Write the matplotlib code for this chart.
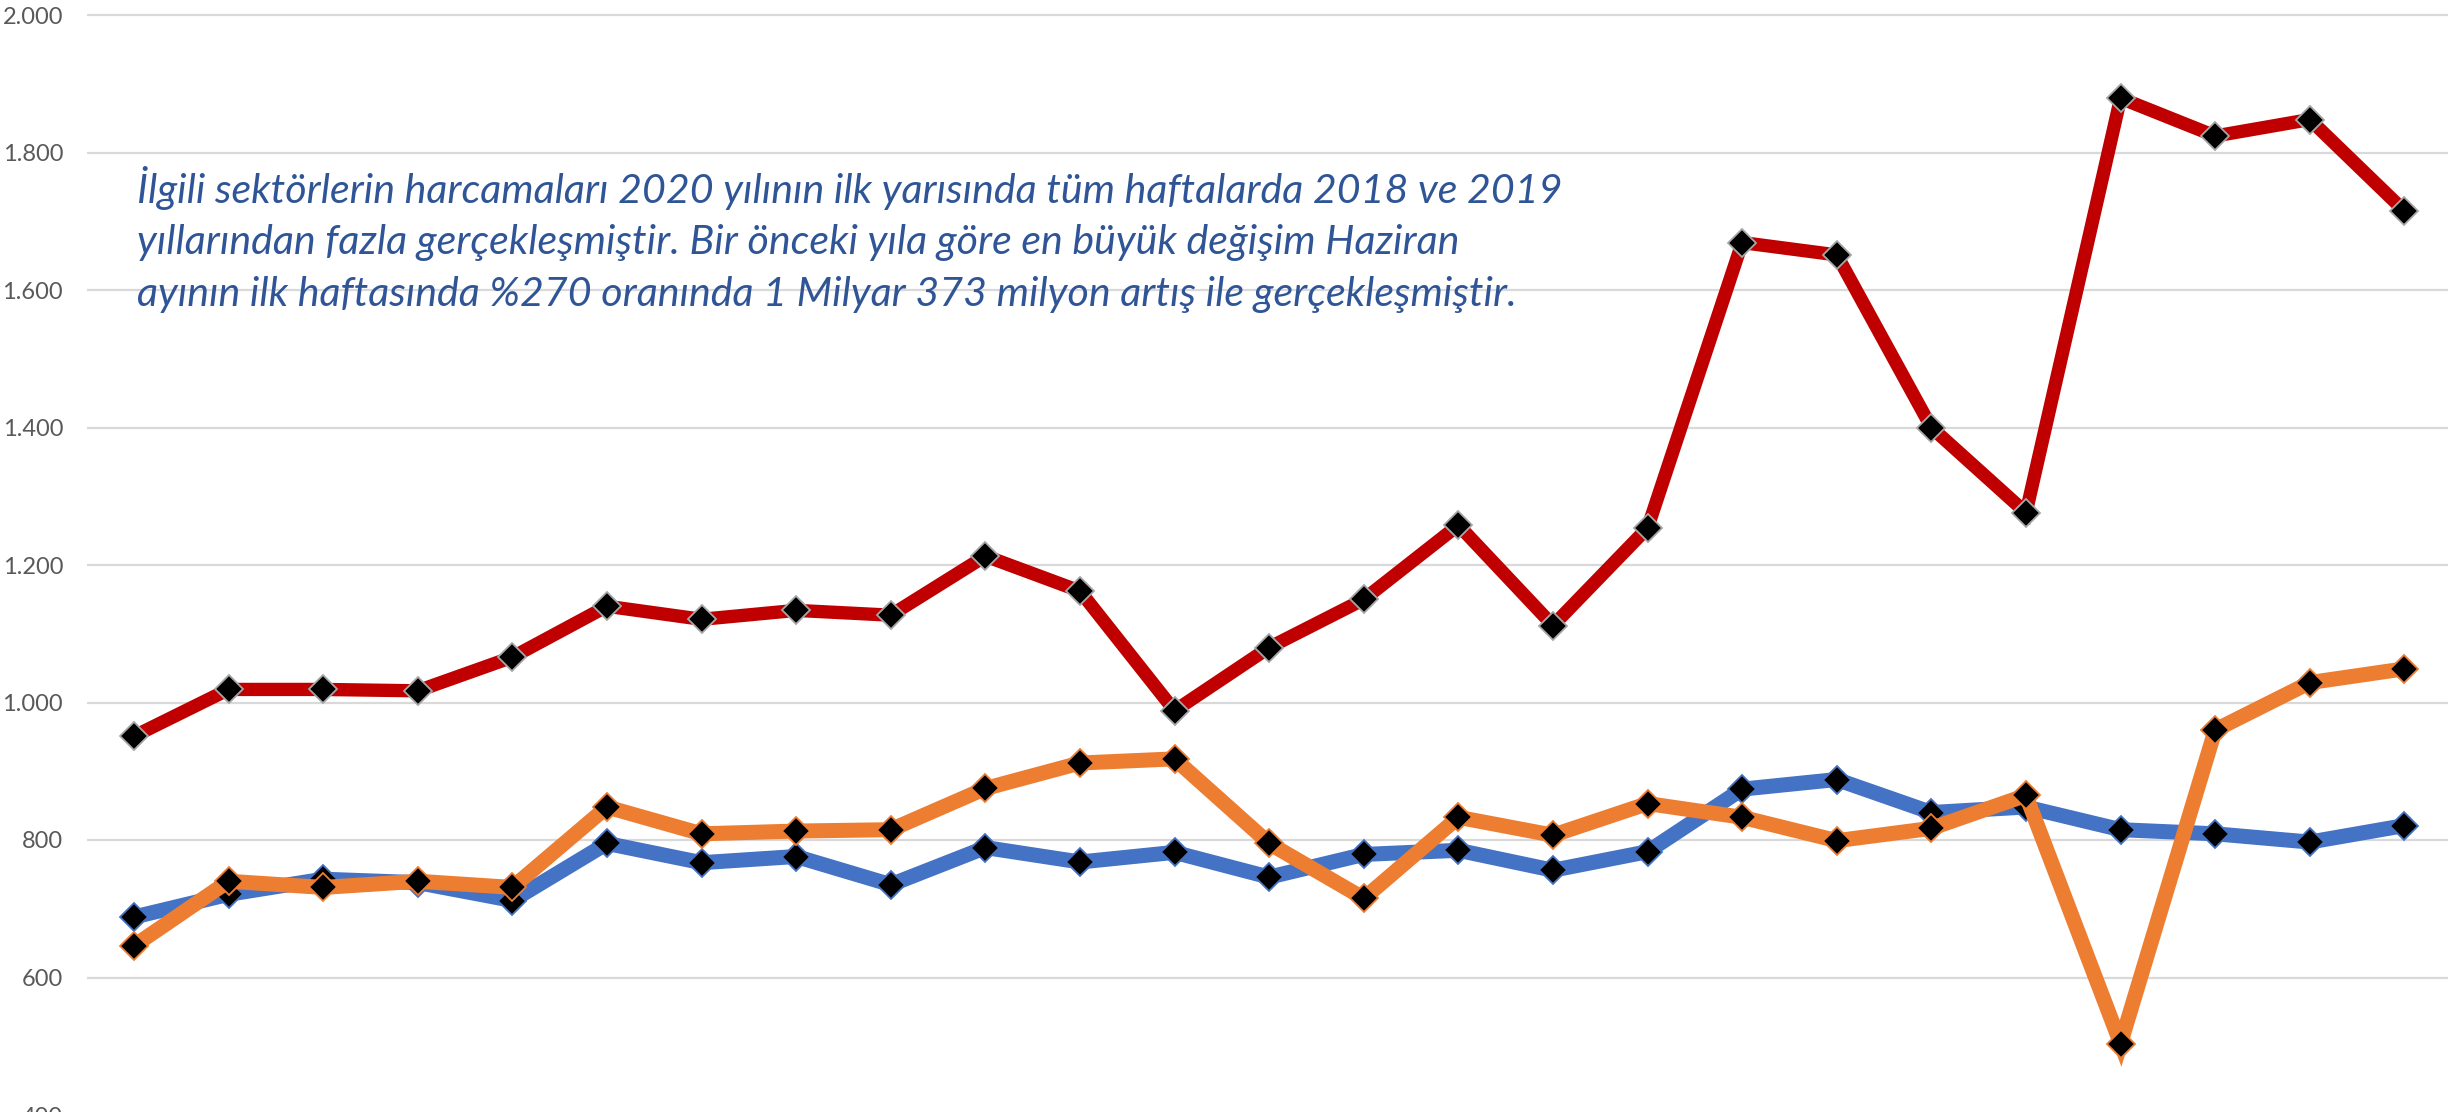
import matplotlib
matplotlib.use("Agg")
from matplotlib import pyplot as plt
from matplotlib.ticker import FuncFormatter

# weekly spending, first half of the year (million TL)
weeks = list(range(1, 26))
y2018 = [688, 721, 743, 738, 712, 795, 767, 776, 735, 789, 768, 782, 746,
         779, 785, 756, 783, 874, 888, 840, 848, 815, 809, 797, 821]
y2019 = [646, 740, 731, 740, 731, 848, 809, 813, 815, 875, 912, 918, 795,
         715, 833, 807, 853, 833, 799, 817, 865, 504, 960, 1029, 1049]
y2020 = [951, 1019, 1019, 1017, 1066, 1140, 1121, 1134, 1127, 1213, 1162, 988, 1080,
         1150, 1258, 1112, 1254, 1669, 1651, 1400, 1276, 1879, 1824, 1848, 1715]
yticks = [400, 600, 800, 1000, 1200, 1400, 1600, 1800, 2000]

note = ("İlgili sektörlerin harcamaları 2020 yılının ilk yarısında tüm haftalarda 2018 ve 2019\n"
        "yıllarından fazla gerçekleşmiştir. Bir önceki yıla göre en büyük değişim Haziran\n"
        "ayının ilk haftasında %270 oranında 1 Milyar 373 milyon artış ile gerçekleşmiştir.")

W, H = 2448, 1112
fig = plt.figure(figsize=(W / 100, H / 100), dpi=100)
fig.patch.set_facecolor("white")

# axes placed so the 400 line sits just under the bottom edge
ylo, yhi = 400, 2022
pxPerUnit = 0.6875
axH = (yhi - ylo) * pxPerUnit / H
axB = 1.0 - 15.0 / H - (2000 - ylo) * pxPerUnit / H
ax = fig.add_axes([86.7 / W, axB, 25 * 94.6 / W, axH])
ax.set_xlim(-0.5, 24.5)
ax.set_ylim(ylo, yhi)

x = list(range(len(weeks)))
series = [
    (y2018, "#4472C4", "#4472C4", 10.8),
    (y2019, "#ED7D31", "#ED7D31", 10.8),
    (y2020, "#C00000", "#A6A6A6", 9.6),
]
for vals, col, edge, lw in series:
    ax.plot(x, vals, color=col, lw=lw, solid_joinstyle="miter", marker="D", ms=14,
            mfc="black", mec=edge, mew=1.3, zorder=3)

ax.set_yticks(yticks)
ax.yaxis.set_major_formatter(FuncFormatter(lambda v, p: f"{int(v):,}".replace(",", ".")))
ax.grid(axis="y", color="#D9D9D9", lw=1.6, zorder=0)
ax.set_xticks([])
ax.tick_params(axis="y", length=0, pad=17, labelsize=17, labelcolor="#595959")
for lbl in ax.get_yticklabels():
    lbl.set_family("Lato")
for s in ax.spines.values():
    s.set_visible(False)

fig.text(137 / W, 1 - 166 / H, note, ha="left", va="top", fontsize=29.6, style="italic",
         family="Lato", color="#2F5597", linespacing=1.48)

fig.savefig("out.png", dpi=100, facecolor="white")
